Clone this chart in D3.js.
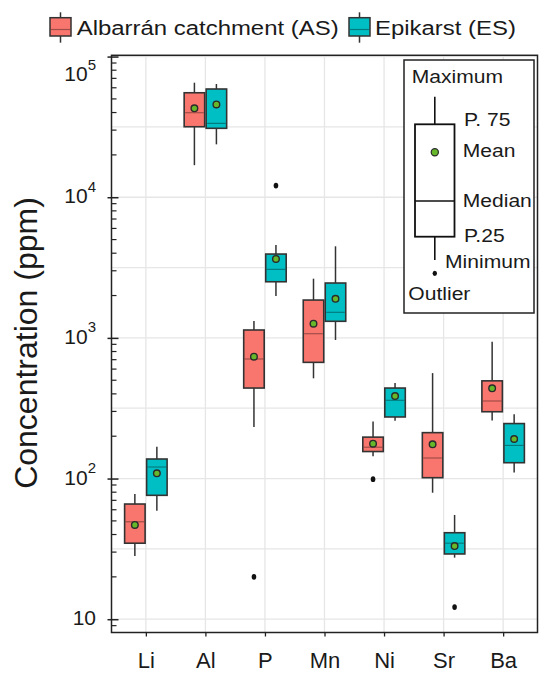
<!DOCTYPE html>
<html>
<head>
<meta charset="utf-8">
<script src="https://cdn.jsdelivr.net/npm/d3@7"></script>
<style>
  body { margin: 0; background: #fff; }
  svg { display: block; }
  text { font-family: "Liberation Sans", Arial, sans-serif; fill: #1a1a1a; }
</style>
</head>
<body>
<svg id="chart" width="539" height="674"></svg>
<script>
// ---- data (ppm) ----
const elements = ["Li", "Al", "P", "Mn", "Ni", "Sr", "Ba"];
const groupNames = ["Albarrán catchment (AS)", "Epikarst (ES)"];
const groupColors = ["#F8766D", "#00BFC4"];

// Albarrán catchment (AS)
const asLow    = [28.1, 16900, 233, 516, 144, 79.3, 259];
const asQ1     = [34.7, 31700, 440, 670, 155.6, 101.4, 298.5];
const asMedian = [49.3, 39900, 708, 1071, 167, 140, 356];
const asQ3     = [65.9, 55300, 1138, 1858, 197, 212, 495];
const asHigh   = [77.6, 65200, 1318, 2636, 254, 562, 940];
const asMean   = [46.8, 42850, 735, 1262, 177, 175, 438];

// Epikarst (ES)
const esLow    = [59.0, 23770, 1986, 966, 258, 27.4, 110.4];
const esQ1     = [76.0, 30900, 2506, 1312, 274, 29.1, 129.6];
const esMedian = [120.8, 33500, 3070, 1520, 360, 34.7, 172];
const esQ3     = [137.7, 58800, 3945, 2455, 440, 41.2, 246];
const esHigh   = [168, 63800, 4570, 4478, 477, 55.1, 286];
const esMean   = [108.9, 45700, 3640, 1897, 386, 33.1, 191];

// outliers: [element, group index, value]
const outliers = [["P", 0, 20], ["Ni", 0, 99], ["P", 1, 12100], ["Sr", 1, 12.2]];

const majorTicks = [10, 100, 1000, 10000, 100000];
const yTitle = "Concentration (ppm)";

// inset key labels
const keyLabels = ["Maximum", "P. 75", "Mean", "Median", "P.25", "Minimum", "Outlier"];

// ---- layout ----
const svg = d3.select("#chart");
const plot = { left: 111.5, right: 537.5, top: 55.3, bottom: 632.5 };
const textStretch = 1.14;

const x = d3.scalePoint().domain(elements).range([plot.left, plot.right]).padding(0.577);
const y = d3.scaleLog().domain([8.045, 102100]).range([plot.bottom, plot.top]);
const dodge = 11, boxW = 20.5;

const rows = [
  { low: asLow, q1: asQ1, med: asMedian, q3: asQ3, high: asHigh, mean: asMean },
  { low: esLow, q1: esQ1, med: esMedian, q3: esQ3, high: esHigh, mean: esMean }
];
const boxes = [];
rows.forEach((r, g) => elements.forEach((e, i) => boxes.push({
  el: e, g, low: r.low[i], q1: r.q1[i], med: r.med[i], q3: r.q3[i], high: r.high[i], mean: r.mean[i]
})));
const cx = d => x(d.el) + (d.g === 0 ? -dodge : dodge);

// ---- grid ----
const grid = svg.append("g");
const halfDecades = d3.range(2, 11).map(k => Math.pow(10, k / 2));
grid.selectAll("line.h").data(halfDecades).join("line")
  .attr("x1", plot.left).attr("x2", plot.right)
  .attr("y1", d => y(d)).attr("y2", d => y(d))
  .attr("stroke", "#e6e6e6").attr("stroke-width", 1.3);
grid.selectAll("line.v").data(elements).join("line")
  .attr("x1", d => x(d)).attr("x2", d => x(d))
  .attr("y1", plot.top).attr("y2", plot.bottom)
  .attr("stroke", "#e6e6e6").attr("stroke-width", 1.3);

// ---- boxes ----
const gb = svg.append("g");
gb.selectAll("line.wh").data(boxes).join("line")
  .attr("x1", cx).attr("x2", cx)
  .attr("y1", d => y(d.high)).attr("y2", d => y(d.low))
  .attr("stroke", "#333").attr("stroke-width", 1.5);
gb.selectAll("rect").data(boxes).join("rect")
  .attr("x", d => cx(d) - boxW / 2).attr("width", boxW)
  .attr("y", d => y(d.q3)).attr("height", d => y(d.q1) - y(d.q3))
  .attr("fill", d => groupColors[d.g]).attr("stroke", "#333").attr("stroke-width", 1.6);
gb.selectAll("line.med").data(boxes).join("line")
  .attr("x1", d => cx(d) - boxW / 2 + 1).attr("x2", d => cx(d) + boxW / 2 - 1)
  .attr("y1", d => y(d.med)).attr("y2", d => y(d.med))
  .attr("stroke", "#000").attr("stroke-opacity", 0.35).attr("stroke-width", 1.2);
gb.selectAll("circle.mean").data(boxes).join("circle")
  .attr("cx", cx).attr("cy", d => y(d.mean)).attr("r", 3.3)
  .attr("fill", "#66b82a").attr("stroke", "#2a2a2a").attr("stroke-width", 1.4);
gb.selectAll("ellipse.out").data(outliers).join("ellipse")
  .attr("cx", d => x(d[0]) + (d[1] === 0 ? -dodge : dodge))
  .attr("cy", d => y(d[2])).attr("rx", 2.3).attr("ry", 2.9).attr("fill", "#111");

// ---- axes ----
const xAxis = svg.append("g").attr("transform", `translate(0,${plot.bottom})`)
  .call(d3.axisBottom(x).tickSize(4).tickPadding(16));
xAxis.select(".domain").remove();
xAxis.selectAll("line").attr("stroke", "#222").attr("stroke-width", 1.3);
xAxis.selectAll("text").attr("font-size", 22).attr("fill", "#1a1a1a")
  .attr("font-family", '"Liberation Sans", Arial, sans-serif');

const yAxis = svg.append("g").attr("transform", `translate(${plot.left},0)`)
  .call(d3.axisLeft(y).tickValues(majorTicks).tickSizeInner(4).tickSizeOuter(0).tickPadding(12).tickFormat(() => ""));
yAxis.select(".domain").remove();
yAxis.selectAll("line").attr("stroke", "#222").attr("stroke-width", 1.5).attr("x2", -4).attr("x1", 7);
// minor ticks at 2..9 of each decade
const minor = y.ticks().filter(t => !majorTicks.includes(t));
yAxis.selectAll("line.minor").data(minor).join("line").attr("class", "minor")
  .attr("x1", 0).attr("x2", 5).attr("y1", d => y(d)).attr("y2", d => y(d))
  .attr("stroke", "#222").attr("stroke-width", 1.2);
// labels as powers of ten, kept inside the frame
yAxis.selectAll("g.tick").each(function (d) {
  const g = d3.select(this);
  const p = Math.round(Math.log10(d));
  const ty = Math.max(y(d), plot.top + 20) - y(d);
  const t = g.append("text").attr("x", -15.5).attr("y", ty + 5.5)
    .attr("text-anchor", "end").attr("font-size", 21).attr("fill", "#1a1a1a");
  if (p === 1) {
    t.text("10");
  } else {
    t.append("tspan").text("10");
    t.append("tspan").attr("dy", -11.5).attr("font-size", 15).text(p);
  }
});

// frame
svg.append("rect").attr("x", plot.left).attr("y", plot.top)
  .attr("width", plot.right - plot.left).attr("height", plot.bottom - plot.top)
  .attr("fill", "none").attr("stroke", "#222").attr("stroke-width", 1.5);

// y title
svg.append("text").attr("transform", "translate(37,343) rotate(-90)")
  .attr("text-anchor", "middle").attr("font-size", 32).text(yTitle);

// ---- top legend ----
function stretched(sel, tx, ty, size, str) {
  return sel.append("text").attr("transform", `translate(${tx},${ty}) scale(${textStretch},1)`)
    .attr("font-size", size).text(str);
}
const legendKeysX = [50, 349];
const legendTextX = [76.7, 375];
groupNames.forEach((name, i) => {
  const kx = legendKeysX[i], w = 21, mid = kx + w / 2;
  svg.append("line").attr("x1", mid).attr("x2", mid).attr("y1", 12.3).attr("y2", 42.7)
    .attr("stroke", "#333").attr("stroke-width", 1.5);
  svg.append("rect").attr("x", kx).attr("y", 17.7).attr("width", w).attr("height", 18.3)
    .attr("fill", groupColors[i]).attr("stroke", "#333").attr("stroke-width", 1.5);
  svg.append("line").attr("x1", kx + 1).attr("x2", kx + w - 1).attr("y1", 29.5).attr("y2", 29.5)
    .attr("stroke", "#000").attr("stroke-opacity", 0.35).attr("stroke-width", 1.2);
  stretched(svg, legendTextX[i], 35, 21, name);
});

// ---- inset key ----
const key = svg.append("g");
key.append("rect").attr("x", 404).attr("y", 60).attr("width", 130).attr("height", 253)
  .attr("fill", "#fff").attr("stroke", "#222").attr("stroke-width", 1.5);
const kx = 434.8;
key.append("line").attr("x1", kx).attr("x2", kx).attr("y1", 96.7).attr("y2", 124.3).attr("stroke", "#111").attr("stroke-width", 1.6);
key.append("line").attr("x1", kx).attr("x2", kx).attr("y1", 236.7).attr("y2", 260).attr("stroke", "#111").attr("stroke-width", 1.6);
key.append("rect").attr("x", 415).attr("y", 124.3).attr("width", 39.5).attr("height", 112.4)
  .attr("fill", "#fff").attr("stroke", "#111").attr("stroke-width", 1.8);
key.append("line").attr("x1", 415).attr("x2", 454.5).attr("y1", 201).attr("y2", 201).attr("stroke", "#111").attr("stroke-width", 1.5);
key.append("circle").attr("cx", kx).attr("cy", 152.3).attr("r", 3.6).attr("fill", "#66b82a").attr("stroke", "#2a2a2a").attr("stroke-width", 1.2);
key.append("ellipse").attr("cx", kx).attr("cy", 273.3).attr("rx", 2.2).attr("ry", 2.6).attr("fill", "#111");
const keyPos = [[411.7, 83.3], [464, 126], [462.7, 157.3], [462.7, 207.3], [464, 241.7], [445, 268.3], [408.3, 300]];
keyLabels.forEach((t, i) => stretched(key, keyPos[i][0], keyPos[i][1], 18.5, t));
</script>
</body>
</html>
